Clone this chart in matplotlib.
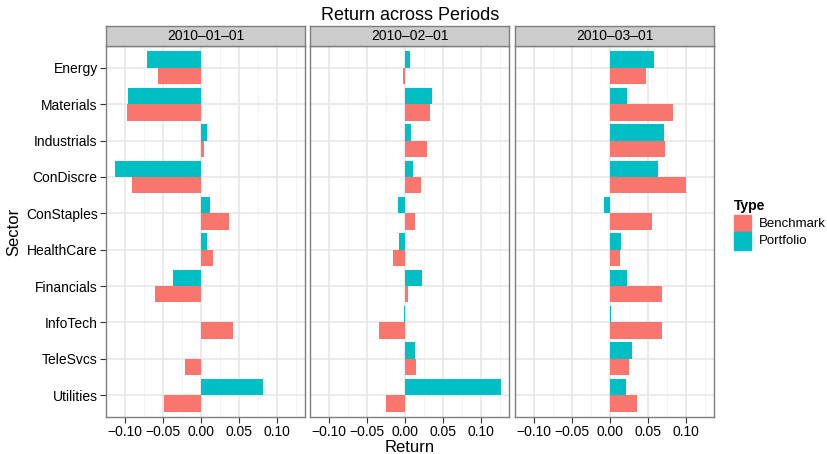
import matplotlib.pyplot as plt
import numpy as np

plt.rcParams['font.family'] = ['Liberation Sans', 'DejaVu Sans']

# data

sectors = ['Energy', 'Materials', 'Industrials', 'ConDiscre', 'ConStaples',
           'HealthCare', 'Financials', 'InfoTech', 'TeleSvcs', 'Utilities']
periods = ['2010\u201301\u201301', '2010\u201302\u201301', '2010\u201303\u201301']

benchmark = [
    [-0.057, -0.098, 0.004, -0.091, 0.037, 0.016, -0.061, 0.042, -0.021, -0.049],
    [-0.003, 0.033, 0.029, 0.021, 0.013, -0.016, 0.004, -0.034, 0.015, -0.025],
    [0.048, 0.083, 0.073, 0.100, 0.056, 0.013, 0.068, 0.069, 0.025, 0.035],
]
portfolio = [
    [-0.071, -0.096, 0.008, -0.113, 0.012, 0.008, -0.037, 0.0007, 0.0007, 0.082],
    [0.007, 0.036, 0.008, 0.010, -0.009, -0.008, 0.023, -0.001, 0.013, 0.127],
    [0.058, 0.023, 0.071, 0.063, -0.008, 0.015, 0.022, 0.001, 0.029, 0.021],
]

colors = {'Benchmark': '#F8766D', 'Portfolio': '#00BFC4'}

W, H = 828, 454
fig = plt.figure(figsize=(W / 100, H / 100), dpi=100)

panel_x = [(106, 305), (310, 509), (515, 714)]
top, bottom = 46, 417
strip_top = 26

pos = np.arange(len(sectors))
bh = 0.45
xt = [-0.10, -0.05, 0.0, 0.05, 0.10]
xminor = [-0.125, -0.075, -0.025, 0.025, 0.075, 0.125]

for i, (x0, x1) in enumerate(panel_x):
    ax = fig.add_axes([x0 / W, 1 - bottom / H, (x1 - x0) / W, (bottom - top) / H])
    ax.set_xlim(-0.125, 0.137)
    ax.set_ylim(len(sectors) - 0.4, -0.6)
    for v in xminor:
        ax.axvline(v, color='#F2F2F2', lw=0.6, zorder=0)
    for v in xt:
        ax.axvline(v, color='#E5E5E5', lw=1.1, zorder=0)
    for p in pos:
        ax.axhline(p, color='#E5E5E5', lw=1.1, zorder=0)
    ax.barh(pos + bh / 2, benchmark[i], height=bh, color=colors['Benchmark'], zorder=2)
    ax.barh(pos - bh / 2, portfolio[i], height=bh, color=colors['Portfolio'], zorder=2)
    ax.set_xticks(xt)
    ax.set_xticklabels(['\u22120.10', '\u22120.05', '0.00', '0.05', '0.10'])
    ax.set_yticks(pos)
    ax.tick_params(labelsize=10, colors='#333333', length=4, width=0.8, pad=2,
                   labelcolor='black')
    if i == 0:
        ax.set_yticklabels(sectors)
    else:
        ax.set_yticklabels([])
        ax.tick_params(axis='y', length=0)
    for s in ax.spines.values():
        s.set_color('#7F7F7F')
        s.set_linewidth(1.0)

    # strip header
    sax = fig.add_axes([x0 / W, 1 - top / H, (x1 - x0) / W, (top - strip_top) / H])
    sax.set_facecolor('#CCCCCC')
    sax.set_xticks([])
    sax.set_yticks([])
    for s in sax.spines.values():
        s.set_color('#7F7F7F')
        s.set_linewidth(1.0)
    sax.text(0.5, 0.48, periods[i], ha='center', va='center', fontsize=10,
             transform=sax.transAxes)

fig.text(410 / W, 1 - 15 / H, 'Return across Periods', ha='center', va='center', fontsize=13)
fig.text(410 / W, 1 - 447 / H, 'Return', ha='center', va='center', fontsize=12)
fig.text(14 / W, 1 - 232 / H, 'Sector', ha='center', va='center', fontsize=12, rotation=90)

# legend
fig.text(734 / W, 1 - 206 / H, 'Type', ha='left', va='center', fontsize=10, fontweight='bold')
for k, name in enumerate(['Benchmark', 'Portfolio']):
    ky = 215 + k * 17.5
    fig.patches.append(plt.Rectangle((734 / W, 1 - (ky + 17.5) / H), 17.5 / W, 17.5 / H,
                                     color=colors[name], transform=fig.transFigure))
    fig.text(759 / W, 1 - (ky + 9) / H, name, ha='left', va='center', fontsize=9.5)

fig.savefig('out.png', dpi=100)
